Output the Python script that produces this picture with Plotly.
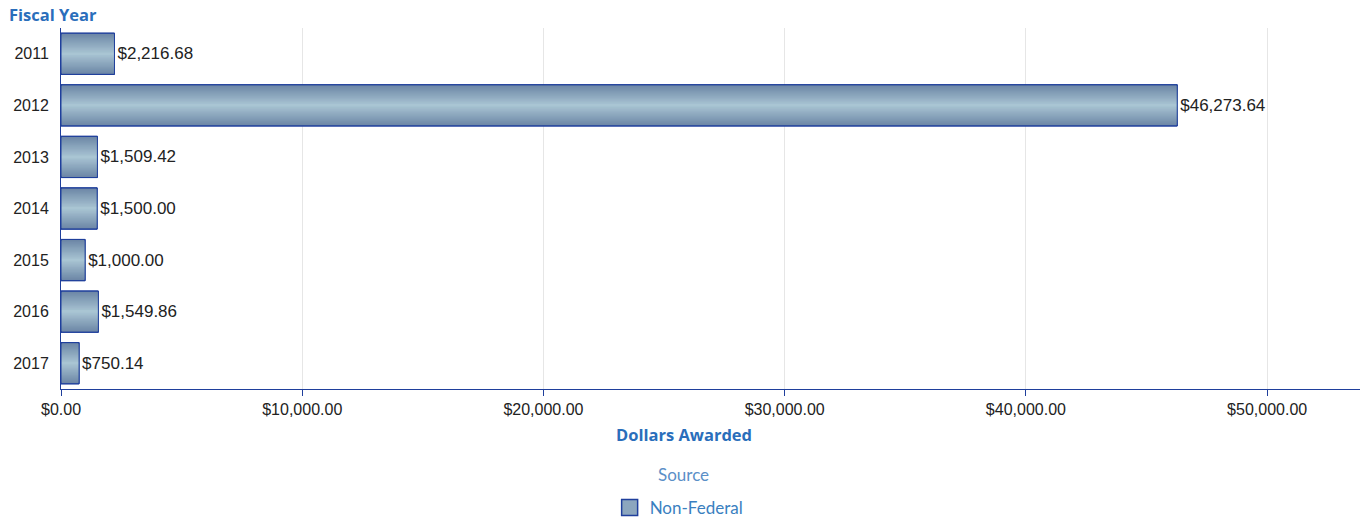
import plotly.graph_objects as go

years = ["2011", "2012", "2013", "2014", "2015", "2016", "2017"]
dollars = [2216.68, 46273.64, 1509.42, 1500.00, 1000.00, 1549.86, 750.14]
series_name = "Non-Federal"
legend_title = "Source"
x_ticks = [0, 10000, 20000, 30000, 40000, 50000]

edge = (108, 134, 166)
center = (169, 197, 211)
outline = "#1f3f9c"
bar_w = 0.8

fig = go.Figure()
# base bar (dark edge colour)
fig.add_trace(go.Bar(
    y=years, x=dollars, orientation="h", width=bar_w, name=series_name,
    marker=dict(color="rgb(%d,%d,%d)" % edge, line=dict(color=outline, width=1)),
    hoverinfo="skip", showlegend=False,
))
# gradient layers (narrower, lighter bars stacked on top of each other)
n = 16
for i in range(1, n + 1):
    t = i / n
    w = bar_w * (1 - t) + 0.03 * t
    c = tuple(round(edge[k] + (center[k] - edge[k]) * t) for k in range(3))
    fig.add_trace(go.Bar(
        y=years, x=dollars, orientation="h", width=w,
        marker=dict(color="rgb(%d,%d,%d)" % c, line=dict(width=0)),
        showlegend=False, hoverinfo="skip",
    ))
# outline + value labels
fig.add_trace(go.Bar(
    y=years, x=dollars, orientation="h", width=bar_w, name=series_name,
    marker=dict(color="rgba(0,0,0,0)", line=dict(color=outline, width=1)),
    texttemplate="%{x:$,.2f}", textposition="outside",
    textfont=dict(family="Liberation Sans", size=17, color="#222"),
    cliponaxis=False, showlegend=False,
))
# legend swatch
fig.add_trace(go.Scatter(
    x=[None], y=[None], mode="markers", name=series_name,
    marker=dict(symbol="square", size=22, color="rgb(140,166,190)",
                line=dict(color=outline, width=1.5)),
    showlegend=True,
))

fig.update_layout(
    width=1372, height=520,
    barmode="overlay",
    plot_bgcolor="white", paper_bgcolor="white",
    margin=dict(l=61, r=12, t=28, b=131),
    font=dict(family="Liberation Sans", size=16, color="#222"),
    xaxis=dict(
        range=[0, 53850], tickvals=x_ticks, tickformat="$,.2f",
        showgrid=True, gridcolor="#e6e6e6", zeroline=False,
        showline=True, linecolor=outline, linewidth=1,
        ticks="outside", ticklen=6, tickcolor=outline, automargin=False,
        tickfont=dict(family="Liberation Sans", size=16, color="#222"),
    ),
    yaxis=dict(
        type="category", autorange="reversed", automargin=False,
        showline=True, linecolor=outline, linewidth=1,
        showgrid=False, ticks="", ticklabelstandoff=8,
        tickfont=dict(family="Liberation Sans", size=16, color="#222"),
    ),
    legend=dict(
        orientation="h", x=0.495, xanchor="center", xref="container",
        y=1 - 508 / 520, yanchor="middle", yref="container",
        font=dict(family="Lato", size=17, color="#3a7fc0"),
        itemsizing="trace",
    ),
    annotations=[
        dict(text="<b>Fiscal Year</b>", xref="paper", yref="paper", x=0, y=1,
             xshift=-54, yshift=0, xanchor="left", yanchor="bottom", showarrow=False,
             font=dict(family="Open Sans", size=16.5, color="#2a6ebb")),
        dict(text="<b>Dollars Awarded</b>", xref="paper", yref="paper", x=0.5, y=0,
             xshift=-27, yshift=-32, xanchor="center", yanchor="top", showarrow=False,
             font=dict(family="Open Sans", size=16.5, color="#2a6ebb")),
        dict(text=legend_title, xref="paper", yref="paper",
             x=(683 - 61) / 1299, y=(389 - 474) / 361,
             xanchor="center", yanchor="middle", showarrow=False,
             font=dict(family="Lato", size=17, color="#5b8fc7")),
    ],
)

fig.write_html("out.html", config={"displayModeBar": False},
               post_script="document.body.style.margin='0';")
